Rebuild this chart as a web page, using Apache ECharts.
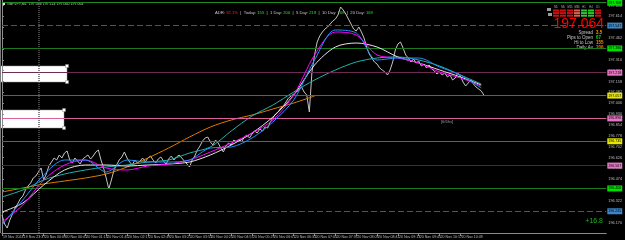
<!DOCTYPE html>
<html>
<head>
<meta charset="utf-8">
<script src="https://cdn.jsdelivr.net/npm/echarts@6/dist/echarts.min.js"></script>
<style>
html, body { margin: 0; padding: 0; background: #000; }
#chart { width: 625px; height: 240px; }
</style>
</head>
<body>
<div id="chart"></div>
<script>
// GBPJPY M1, one point per 4 minutes
const timeLabels = [
  '19 Nov 2024', '19 Nov 23:37', '20 Nov 00:09', '20 Nov 00:41', '20 Nov 01:13', '20 Nov 01:45',
  '20 Nov 02:17', '20 Nov 02:49', '20 Nov 03:21', '20 Nov 03:53', '20 Nov 04:25', '20 Nov 04:57',
  '20 Nov 05:29', '20 Nov 06:01', '20 Nov 06:33', '20 Nov 07:05', '20 Nov 07:37', '20 Nov 08:09',
  '20 Nov 08:41', '20 Nov 09:13', '20 Nov 09:45', '20 Nov 10:17', '20 Nov 10:49', '20 Nov 11:21'
]
const labelStep = 8
const lastSlot = 232

const priceClose = [
  196.224, 196.161, 196.133, 196.189, 196.231, 196.273, 196.301, 196.336, 196.357, 196.399,
  196.427, 196.448, 196.483, 196.497, 196.525, 196.553, 196.469, 196.511, 196.567, 196.595,
  196.623, 196.609, 196.644, 196.623, 196.658, 196.672, 196.609, 196.588, 196.623, 196.602,
  196.581, 196.616, 196.630, 196.644, 196.616, 196.637, 196.665, 196.679, 196.609, 196.553,
  196.483, 196.406, 196.469, 196.539, 196.574, 196.609, 196.630, 196.665, 196.623, 196.595,
  196.574, 196.609, 196.588, 196.602, 196.623, 196.595, 196.623, 196.637, 196.609, 196.588,
  196.616, 196.630, 196.602, 196.581, 196.616, 196.637, 196.609, 196.630, 196.644, 196.623,
  196.602, 196.581, 196.560, 196.609, 196.637, 196.679, 196.707, 196.742, 196.763, 196.770,
  196.735, 196.714, 196.749, 196.728, 196.693, 196.665, 196.707, 196.728, 196.714, 196.749,
  196.735, 196.756, 196.735, 196.770, 196.784, 196.763, 196.791, 196.812, 196.798, 196.826,
  196.812, 196.840, 196.833, 196.875, 196.903, 196.931, 196.945, 196.973, 196.987, 197.015,
  197.043, 197.057, 197.071, 197.085, 197.099, 197.120, 197.085, 197.064, 196.945, 197.225,
  197.344, 197.435, 197.477, 197.505, 197.526, 197.540, 197.561, 197.582, 197.596, 197.624,
  197.680, 197.659, 197.631, 197.596, 197.561, 197.526, 197.512, 197.540, 197.505, 197.463,
  197.400, 197.351, 197.323, 197.295, 197.281, 197.253, 197.239, 197.225, 197.204, 197.239,
  197.295, 197.379, 197.421, 197.435, 197.393, 197.344, 197.323, 197.295, 197.316, 197.288,
  197.302, 197.267, 197.281, 197.253, 197.274, 197.246, 197.232, 197.211, 197.225, 197.204,
  197.218, 197.190, 197.204, 197.169, 197.183, 197.218, 197.197, 197.155, 197.127, 197.148,
  197.169, 197.141, 197.120, 197.106, 197.092, 197.064
]

// moving averages, one value every 8 slots
const maStep = 8
const maBlue = [196.154, 196.329, 196.504, 196.609, 196.609, 196.525, 196.609, 196.595, 196.595, 196.609, 196.693, 196.700,
  196.763, 196.875, 197.029, 197.309, 197.519, 197.498, 197.309, 197.323, 197.323, 197.260, 197.204, 197.113]
const maMagenta = [196.175, 196.294, 196.469, 196.574, 196.609, 196.553, 196.539, 196.567, 196.581, 196.609, 196.665, 196.728,
  196.798, 196.889, 197.064, 197.344, 197.505, 197.484, 197.344, 197.323, 197.288, 197.225, 197.183, 197.127]
const maWhite = [196.245, 196.308, 196.434, 196.539, 196.574, 196.574, 196.567, 196.574, 196.581, 196.595, 196.644, 196.714,
  196.798, 196.910, 197.064, 197.274, 197.400, 197.428, 197.400, 197.330, 197.288, 197.239, 197.190, 197.134]
const maCyan = [196.350, 196.399, 196.469, 196.511, 196.539, 196.560, 196.574, 196.595, 196.609, 196.658, 196.700, 196.812,
  196.917, 196.994, 197.085, 197.169, 197.239, 197.295, 197.323, 197.330, 197.309, 197.267, 197.204, 197.141]
const maOrange = [196.385, 196.413, 196.441, 196.462, 196.483, 196.511, 196.560, 196.623, 196.693, 196.770, 196.840, 196.889,
  196.924, 196.966, 197.008, 197.057]

const yTicks = [197.690, 197.614, 197.538, 197.462, 197.386, 197.310, 197.234, 197.158, 197.082, 197.006, 196.930,
  196.854, 196.778, 196.702, 196.626, 196.550, 196.474, 196.398, 196.322, 196.246, 196.170]

// pivot style levels
const levels = [197.708, 197.547, 197.386, 197.218, 197.057, 196.896, 196.735, 196.567, 196.406, 196.245]
const levelLook = [
  { line: '#1c8a1c', box: '#00e000', type: 'solid' },
  { line: '#1f5fa8', box: '#3d85c6', type: [6, 3] },
  { line: '#1c7a1c', box: '#00e000', type: 'solid' },
  { line: '#6e2a55', box: '#e377c2', type: 'solid' },
  { line: '#6b6b00', box: '#e6e600', type: 'solid' },
  { line: '#d9609c', box: '#e377c2', type: 'solid' },
  { line: '#6b6b00', box: '#e6e600', type: 'solid' },
  { line: '#5c1e48', box: '#e377c2', type: 'solid' },
  { line: '#1c7a1c', box: '#00e000', type: 'solid' },
  { line: '#1f5fa8', box: '#3d85c6', type: [6, 3] }
]
const separatorSlot = 14

const headerText = 'GBPJPY,M1  197.086 197.114 197.060 197.064'
const adrPct = '92.1%'
const adrNames = ['Today', '1 Day', '5 Day', '10 Day', '20 Day']
const adrValues = [155, 206, 218, 168, 169]
const lastPrice = '197.064'
const infoNames = ['Spread', 'Pips to Open', 'Hi to Low', 'Daily Av']
const infoValues = ['3.5', '67', '155', '206']
const infoColors = ['#ff8c00', '#00e000', '#ff8c00', '#ff6a00']
const tfNames = ['M1', 'M5', 'M15', 'M30', 'H1', 'H4', 'D1']
const tfColors = ['#d01010', '#d01010', '#d01010', '#e0604a', '#3cc03c', '#20d020', '#d01010']
const pnlText = '+16.8'

const labelSlots = timeLabels.map((_, k) => k * labelStep)
const maData = arr => arr.map((v, k) => [k * maStep, v])

const chart = echarts.init(document.getElementById('chart'), null, { renderer: 'canvas' })

const adrRich = '{g|ADR: }{r|' + adrPct + '}' + adrNames.map((n, i) =>
  '{g|  |  ' + n + ': }{v|' + adrValues[i] + '}').join('')

const graphics = [
  { type: 'rect', shape: { x: 0, y: 66, width: 67, height: 16 }, style: { fill: '#fff', stroke: '#999', lineWidth: 0.5 }, z: -10 },
  { type: 'rect', shape: { x: 65.5, y: 64.5, width: 3, height: 3 }, style: { fill: '#fff', stroke: '#888', lineWidth: 0.5 }, z: 10 },
  { type: 'rect', shape: { x: 65.5, y: 80.5, width: 3, height: 3 }, style: { fill: '#fff', stroke: '#888', lineWidth: 0.5 }, z: 10 },
  { type: 'rect', shape: { x: 0, y: 110, width: 64, height: 18 }, style: { fill: '#fff', stroke: '#999', lineWidth: 0.5 }, z: -10 },
  { type: 'rect', shape: { x: 62.5, y: 108.5, width: 3, height: 3 }, style: { fill: '#fff', stroke: '#888', lineWidth: 0.5 }, z: 10 },
  { type: 'rect', shape: { x: 62.5, y: 126.5, width: 3, height: 3 }, style: { fill: '#fff', stroke: '#888', lineWidth: 0.5 }, z: 10 },
  { type: 'rect', shape: { x: 2, y: 3, width: 3, height: 2 }, style: { fill: '#ddd' } },
  { type: 'text', x: 7, y: 4, style: { text: headerText, fill: '#c8c8c8', font: '3.6px Arial', verticalAlign: 'middle' } },
  {
    type: 'text', x: 215, y: 13,
    style: {
      text: adrRich, verticalAlign: 'middle', font: '4.2px Arial',
      rich: {
        g: { fill: '#c8c8c8', font: '4.2px Arial' },
        r: { fill: '#ff2020', font: '4.2px Arial' },
        v: { fill: '#20e020', font: '4.2px Arial' }
      }
    }
  },
  { type: 'text', x: 604, y: 24, style: { text: lastPrice, fill: '#ff0000', font: '14px Arial', align: 'right', verticalAlign: 'middle' } },
  { type: 'text', x: 441, y: 122, style: { text: '[6/6hs]', fill: '#9a9a9a', font: '4px Arial', verticalAlign: 'middle' } },
  { type: 'text', x: 603, y: 221, style: { text: pnlText, fill: '#22b022', font: '7px Arial', align: 'right', verticalAlign: 'middle' } },
  { type: 'rect', shape: { x: 547, y: 8, width: 4, height: 3 }, style: { fill: '#9a9a9a' } },
  { type: 'rect', shape: { x: 548, y: 13, width: 4, height: 3 }, style: { fill: '#9a9a9a' } }
]
infoNames.forEach((n, i) => {
  graphics.push({ type: 'text', x: 593, y: 33 + i * 5, style: { text: n, fill: '#c8c8c8', font: '4.5px Arial', align: 'right', verticalAlign: 'middle' } })
  graphics.push({ type: 'text', x: 596, y: 33 + i * 5, style: { text: infoValues[i], fill: infoColors[i], font: 'bold 4.5px Arial', verticalAlign: 'middle' } })
})
tfNames.forEach((n, i) => {
  const x0 = 553 + i * 7
  graphics.push({ type: 'text', x: x0 + 3, y: 7, style: { text: n, fill: '#bbb', font: '2.6px Arial', align: 'center', verticalAlign: 'middle' } })
  for (let s = 0; s < 3; s++) {
    graphics.push({ type: 'rect', shape: { x: x0, y: 9.5 + s * 2.6, width: 6, height: 2 }, style: { fill: tfColors[i] } })
  }
})
graphics.push({ type: 'line', shape: { x1: 0.5, y1: 0, x2: 0.5, y2: 233 }, style: { stroke: '#777', lineWidth: 1 } })

const maSeries = (name, arr, color, z) => ({
  name, type: 'line', data: maData(arr), smooth: 0.3, showSymbol: false, z,
  lineStyle: { color, width: 1 }
})

chart.setOption({
  backgroundColor: '#000',
  animation: false,
  grid: { left: 0, right: 15, top: 0, bottom: 7 },
  xAxis: {
    type: 'value', min: 0, max: lastSlot,
    axisLine: { lineStyle: { color: '#8a8a8a' } },
    axisTick: { customValues: labelSlots, length: 3, lineStyle: { color: '#8a8a8a' } },
    axisLabel: {
      customValues: labelSlots, align: 'left', margin: 2, padding: [0, 0, 0, 1],
      fontSize: 3.6, fontFamily: 'Arial', color: '#bdbdbd',
      formatter: v => timeLabels[Math.round(v / labelStep)] || ''
    },
    splitLine: { show: false }
  },
  yAxis: {
    type: 'value', position: 'right', min: 196.098, max: 197.729,
    axisLine: { show: true, lineStyle: { color: '#8a8a8a' } },
    axisTick: { show: true, customValues: yTicks, length: 2, lineStyle: { color: '#8a8a8a' } },
    axisLabel: {
      customValues: yTicks, margin: 2, fontSize: 3.8, fontFamily: 'Arial', color: '#bdbdbd',
      formatter: v => v.toFixed(3)
    },
    splitLine: { show: false }
  },
  graphic: graphics,
  series: [
    {
      name: 'levels', type: 'line', data: [], z: 1,
      markLine: {
        silent: true, symbol: ['none', 'none'], animation: false,
        data: levels.map((v, i) => ({
          yAxis: v,
          lineStyle: { color: levelLook[i].line, type: levelLook[i].type, width: 1 },
          label: {
            show: true, position: 'end', distance: 1, formatter: v.toFixed(3),
            backgroundColor: levelLook[i].box, color: '#000', fontSize: 3.6,
            fontFamily: 'Arial', padding: [1, 1, 1, 1]
          }
        })).concat([{
          xAxis: separatorSlot,
          lineStyle: { color: '#5a5a5a', type: [1, 1], width: 1.5 },
          label: { show: false }
        }])
      }
    },
    {
      name: 'GBPJPY', type: 'line', data: priceClose.map((v, i) => [i, v]),
      showSymbol: false, z: 3, lineStyle: { color: '#c4c4c4', width: 1 }
    },
    maSeries('ma orange', maOrange, '#e07b00', 4),
    maSeries('ma cyan', maCyan, '#20b2aa', 4),
    maSeries('ma white', maWhite, '#e6e6e6', 5),
    maSeries('ma magenta', maMagenta, '#ff00ff', 6),
    maSeries('ma blue', maBlue, '#1e90ff', 7)
  ]
})
</script>
</body>
</html>
